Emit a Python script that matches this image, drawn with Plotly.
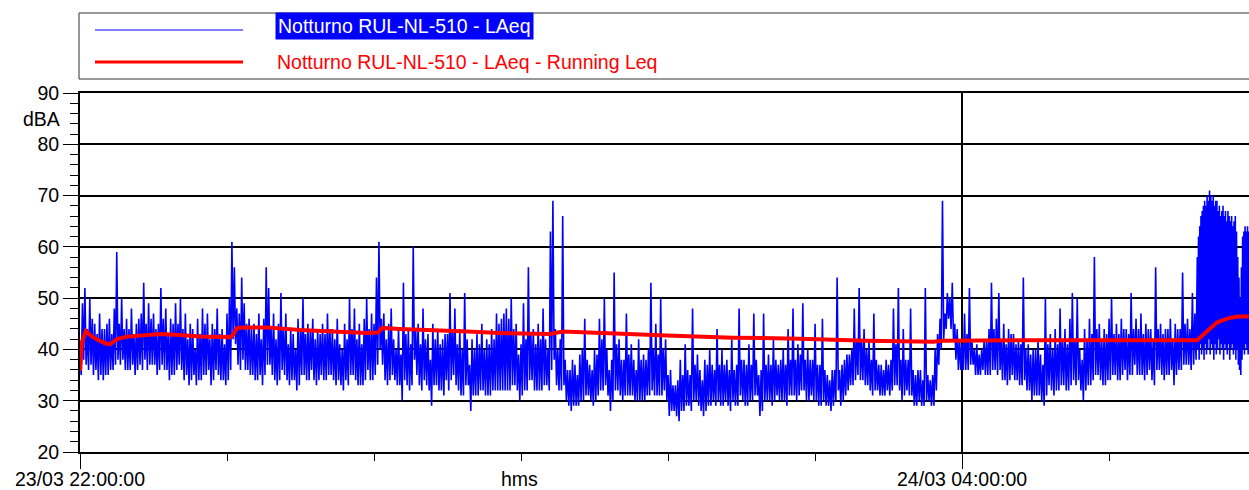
import plotly.graph_objects as go
from datetime import datetime, timedelta

# Measurement start and visible span (minutes)
START = datetime(2023, 3, 23, 22, 0, 0)
SPAN_MIN = 477.1

# LAeq per minute from 22:00: highest and lowest 30 s level in each minute
laeq_max = [
    38, 49, 52, 44, 50, 46, 45, 43, 47, 44,
    44, 45, 46, 43, 48, 59, 45, 50, 44, 46,
    44, 48, 43, 45, 46, 47, 53, 45, 49, 46,
    47, 44, 45, 52, 46, 48, 43, 46, 45, 49,
    45, 50, 44, 47, 42, 45, 44, 40, 46, 43,
    48, 45, 47, 42, 45, 44, 48, 43, 44, 41,
    47, 50, 61, 56, 48, 47, 54, 49, 45, 46,
    44, 45, 43, 47, 42, 46, 56, 52, 44, 47,
    42, 45, 51, 44, 47, 41, 44, 43, 40, 46,
    44, 50, 43, 45, 44, 46, 42, 44, 43, 45,
    43, 47, 44, 44, 42, 46, 41, 40, 45, 42,
    50, 44, 48, 42, 45, 41, 46, 50, 44, 47,
    45, 54, 61, 46, 47, 42, 45, 48, 42, 40,
    44, 39, 53, 43, 44, 41, 60, 44, 45, 41,
    48, 42, 43, 38, 45, 42, 44, 41, 42, 43,
    43, 51, 44, 48, 41, 44, 40, 51, 42, 37,
    42, 40, 43, 41, 45, 40, 42, 41, 44, 42,
    47, 45, 46, 47, 48, 46, 50, 44, 45, 39,
    41, 49, 42, 56, 43, 44, 41, 45, 42, 48,
    42, 40, 63, 69, 44, 40, 42, 66, 38, 36,
    36, 38, 37, 35, 39, 40, 46, 38, 37, 36,
    40, 39, 46, 42, 50, 40, 36, 38, 55, 41,
    42, 38, 38, 47, 39, 41, 38, 36, 42, 38,
    39, 38, 40, 53, 40, 45, 39, 50, 40, 42,
    35, 36, 33, 33, 34, 38, 35, 41, 36, 35,
    48, 37, 39, 36, 34, 38, 37, 40, 37, 36,
    44, 37, 40, 37, 38, 36, 42, 36, 37, 48,
    38, 38, 37, 41, 37, 47, 38, 35, 36, 47,
    37, 39, 37, 42, 38, 37, 38, 40, 37, 44,
    38, 48, 38, 41, 39, 49, 38, 40, 38, 38,
    45, 37, 37, 46, 36, 35, 34, 36, 36, 54,
    36, 37, 38, 39, 39, 40, 48, 42, 52, 42,
    44, 40, 42, 38, 47, 38, 37, 37, 36, 38,
    37, 38, 48, 41, 52, 38, 44, 38, 38, 48,
    36, 35, 36, 36, 34, 52, 35, 34, 35, 40,
    43, 46, 69, 47, 51, 50, 53, 45, 44, 42,
    41, 47, 43, 52, 42, 40, 41, 39, 40, 42,
    42, 44, 53, 44, 46, 51, 42, 45, 41, 44,
    43, 43, 41, 42, 41, 54, 40, 41, 39, 40,
    40, 42, 39, 37, 50, 41, 43, 40, 44, 41,
    48, 42, 44, 41, 46, 51, 42, 50, 40, 38,
    44, 42, 46, 43, 58, 44, 45, 42, 44, 43,
    46, 50, 43, 45, 43, 46, 44, 44, 43, 51,
    44, 46, 44, 47, 43, 45, 44, 44, 42, 56,
    44, 45, 43, 44, 44, 46, 42, 45, 44, 44,
    55, 45, 46, 44, 51, 47,
]
laeq_min = [
    35, 38, 37, 36, 37, 35, 36, 34, 35, 34,
    35, 35, 36, 36, 37, 38, 37, 38, 36, 36,
    36, 37, 35, 36, 37, 36, 38, 36, 37, 37,
    37, 35, 36, 37, 36, 36, 34, 35, 35, 36,
    37, 36, 34, 35, 33, 34, 35, 33, 34, 34,
    35, 35, 36, 33, 34, 36, 35, 34, 34, 33,
    34, 36, 42, 41, 37, 36, 38, 36, 36, 35,
    35, 34, 34, 35, 33, 35, 37, 37, 35, 34,
    33, 34, 36, 35, 34, 33, 34, 34, 32, 33,
    35, 35, 34, 34, 36, 34, 33, 34, 35, 34,
    34, 35, 35, 34, 33, 34, 33, 32, 34, 33,
    35, 35, 34, 33, 33, 33, 34, 36, 34, 34,
    35, 37, 40, 37, 34, 33, 34, 35, 34, 33,
    33, 30, 34, 33, 32, 33, 38, 35, 33, 32,
    34, 33, 32, 29, 33, 33, 32, 32, 31, 34,
    32, 34, 35, 33, 32, 31, 31, 33, 33, 28,
    31, 31, 31, 32, 32, 31, 31, 31, 32, 32,
    32, 32, 32, 32, 32, 32, 33, 33, 32, 30,
    31, 32, 32, 34, 34, 32, 32, 32, 32, 33,
    33, 32, 36, 38, 33, 32, 32, 33, 30, 29,
    28, 29, 29, 29, 30, 30, 31, 31, 30, 29,
    30, 31, 32, 32, 33, 31, 28, 30, 32, 32,
    31, 30, 31, 31, 31, 31, 30, 30, 30, 30,
    30, 31, 31, 32, 31, 31, 31, 31, 32, 30,
    27, 28, 28, 27, 26, 28, 28, 29, 29, 28,
    30, 30, 29, 28, 27, 28, 29, 29, 30, 29,
    30, 29, 29, 30, 29, 28, 30, 29, 29, 31,
    30, 29, 29, 30, 30, 31, 31, 27, 28, 30,
    30, 30, 29, 30, 31, 30, 30, 30, 29, 31,
    31, 31, 30, 31, 32, 32, 30, 30, 31, 30,
    30, 29, 29, 30, 29, 29, 28, 29, 30, 32,
    29, 30, 31, 32, 33, 33, 34, 35, 34, 34,
    33, 33, 32, 31, 32, 32, 31, 31, 31, 32,
    31, 32, 33, 33, 32, 30, 31, 32, 31, 31,
    29, 29, 30, 29, 29, 30, 30, 29, 29, 32,
    37, 40, 42, 44, 46, 44, 42, 38, 36, 36,
    36, 36, 36, 37, 37, 35, 35, 35, 36, 35,
    35, 35, 36, 36, 35, 36, 34, 34, 33, 34,
    35, 34, 34, 33, 33, 34, 32, 32, 30, 31,
    31, 31, 30, 29, 31, 33, 32, 31, 32, 32,
    33, 33, 32, 32, 33, 34, 33, 34, 32, 30,
    32, 33, 33, 34, 35, 35, 34, 33, 33, 34,
    34, 35, 35, 34, 34, 35, 36, 34, 35, 35,
    37, 35, 35, 35, 34, 35, 36, 34, 33, 36,
    36, 35, 34, 35, 35, 36, 33, 35, 36, 36,
    37, 37, 37, 36, 37, 38,
]

# LAeq at 15 s resolution for the final busy stretch
tail_start_min = 456
laeq_15s_tail = [
    58, 40, 62, 38, 64, 41, 66, 39, 67, 40, 68, 38, 69, 41, 68, 39,
    70, 40, 69, 42, 71, 39, 70, 41, 69, 40, 70, 38, 68, 41, 69, 39,
    69, 40, 67, 42, 68, 39, 66, 41, 67, 40, 68, 38, 66, 41, 67, 40,
    65, 39, 67, 41, 66, 38, 65, 40, 66, 41, 64, 39, 65, 40, 66, 38,
    63, 40, 58, 37, 54, 36, 50, 35, 56, 38, 62, 40, 63, 39, 64, 41,
    63, 40, 64, 39, 63,
]

# Running Leq (minutes from 22:00, dBA)
running_min = [0, 0.8, 2.4, 4.9, 6.9, 10.2, 12.2, 15.1, 19.2, 24.5, 32.7, 40.8,
               49, 61.2, 62.4, 64.1, 68.2, 76.3, 89.8, 103.3, 117.1, 121.6,
               123.3, 130.6, 138.8, 158, 171.4, 191.8, 197.1, 220.4, 239.6,
               266.5, 293.9, 321.2, 348.2, 352.2, 383.7, 455.9, 460, 464.1,
               468.2, 472.2, 477]
running_leq = [35.8, 41.5, 43.6, 42.5, 42, 41.2, 41, 42, 42.5, 42.7, 43, 42.8,
               42.5, 42.4, 42.8, 44.2, 44.3, 44.3, 43.8, 43.5, 43.2, 43.3,
               44.2, 44, 43.8, 43.5, 43.2, 43, 43.5, 43, 42.7,
               42.3, 42.1, 41.7, 41.5, 41.7, 41.8, 41.8, 43.5, 45.3,
               46, 46.4, 46.4]

series_names = ["Notturno RUL-NL-510 - LAeq",
                "Notturno RUL-NL-510 - LAeq - Running Leq"]
y_ticks = [20, 30, 40, 50, 60, 70, 80, 90]
x_label_hours = [0, 6]

FONT = "Liberation Sans, Arial, sans-serif"
FS = 19.5
BLUE = "#0000FF"
RED = "#FF0000"


def at(minutes):
    return START + timedelta(minutes=minutes)


# Interleave the per-minute extremes into a 30 s series, then append the tail
laeq_t, laeq_v = [], []
for i, (hi, lo) in enumerate(zip(laeq_max, laeq_min)):
    laeq_t += [at(i), at(i + 0.5)]
    laeq_v += [hi, lo]
laeq_t += [at(tail_start_min + 0.25 * i) for i in range(len(laeq_15s_tail))]
laeq_v += laeq_15s_tail

fig = go.Figure()
fig.add_trace(go.Scatter(x=laeq_t, y=laeq_v, mode="lines", name=series_names[0],
                         line=dict(color=BLUE, width=1.6), showlegend=False))
fig.add_trace(go.Scatter(x=[at(m) for m in running_min], y=running_leq, mode="lines",
                         name=series_names[1], line=dict(color=RED, width=4),
                         showlegend=False))

# Hand-drawn legend panel above the plot
W, H, PL, PT, PB = 1249, 490, 80, 93, 452
ph = PB - PT
pw = W - PL


def px_x(x):
    return (x - PL) / pw


def px_y(y):
    return (PB - y) / ph


shapes = [
    dict(type="rect", xref="paper", yref="paper", x0=px_x(79), x1=px_x(1260),
         y0=px_y(79), y1=px_y(13), line=dict(color="#333333", width=1)),
    dict(type="line", xref="paper", yref="paper", x0=px_x(95), x1=px_x(243),
         y0=px_y(30), y1=px_y(30), line=dict(color=BLUE, width=1.2)),
    dict(type="line", xref="paper", yref="paper", x0=px_x(95), x1=px_x(243),
         y0=px_y(62), y1=px_y(62), line=dict(color=RED, width=3)),
]

annotations = [
    dict(text=series_names[0], xref="paper", yref="paper", x=px_x(275), y=px_y(26.5),
         xanchor="left", yanchor="middle", showarrow=False, bgcolor=BLUE,
         borderpad=2, font=dict(family=FONT, size=FS, color="white")),
    dict(text=series_names[1], xref="paper", yref="paper", x=px_x(275), y=px_y(62),
         xanchor="left", yanchor="middle", showarrow=False,
         font=dict(family=FONT, size=FS, color=RED)),
    dict(text="dBA", xref="paper", yref="paper", x=px_x(41), y=px_y(119),
         xanchor="center", yanchor="middle", showarrow=False,
         font=dict(family=FONT, size=FS, color="black")),
    dict(text="hms", xref="paper", yref="paper", x=px_x(519), y=px_y(479),
         xanchor="center", yanchor="middle", showarrow=False,
         font=dict(family=FONT, size=FS, color="black")),
]

fig.update_layout(
    width=W, height=H,
    margin=dict(l=PL, r=0, t=PT, b=H - PB, autoexpand=False),
    paper_bgcolor="white", plot_bgcolor="white",
    font=dict(family=FONT, size=FS, color="black"),
    shapes=shapes, annotations=annotations,
    showlegend=False,
)

fig.update_xaxes(
    type="date", automargin=False,
    range=[START, at(SPAN_MIN)],
    tickvals=[START + timedelta(hours=h) for h in x_label_hours],
    tickformat="%d/%m %H:%M:%S",
    ticks="outside", ticklen=15, tickwidth=1, tickcolor="black",
    ticklabelstandoff=-6,
    showgrid=True, gridcolor="black", gridwidth=2,
    showline=True, linecolor="black", linewidth=2, mirror=True,
    zeroline=False,
    minor=dict(tick0=START, dtick=3600000, ticks="outside", ticklen=7,
               tickcolor="black", tickwidth=1, showgrid=False),
)

fig.update_yaxes(
    automargin=False,
    range=[20, 90],
    tickvals=y_ticks,
    ticks="outside", ticklen=15, tickwidth=1, tickcolor="black",
    showgrid=True, gridcolor="black", gridwidth=2,
    showline=True, linecolor="black", linewidth=2,
    zeroline=False,
    minor=dict(dtick=2, ticks="outside", ticklen=8, tickcolor="black",
               tickwidth=1, showgrid=False),
)

fig.write_html("out.html")
